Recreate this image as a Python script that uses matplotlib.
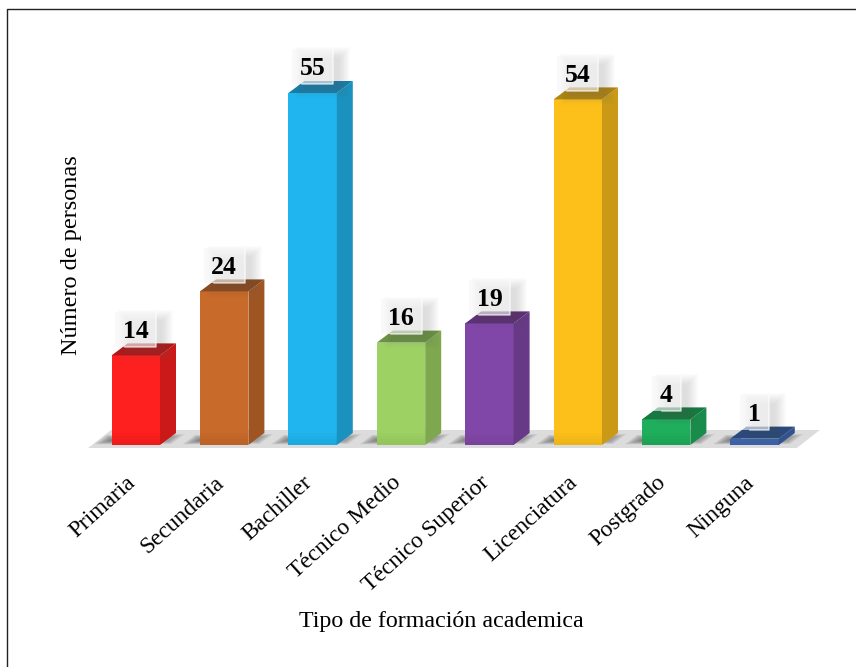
# -*- coding: utf-8 -*-
import numpy as np
import matplotlib
matplotlib.use("Agg")
import matplotlib.pyplot as plt
from matplotlib.patches import Polygon, Rectangle
from matplotlib.lines import Line2D

plt.rcParams["font.family"] = ["Liberation Serif", "DejaVu Serif"]

categories = ["Primaria", "Secundaria", "Bachiller", "Técnico Medio",
              "Técnico Superior", "Licenciatura", "Postgrado", "Ninguna"]
values = [14, 24, 55, 16, 19, 54, 4, 1]
colors = ["#fe1f1f", "#c76a2a", "#20b5ee", "#9dd163",
          "#8147a8", "#fdc01b", "#1fae5c", "#3f68b3"]

W, H = 856, 667
PX_X = 88.4   # pixels per category
PX_Y = 6.4    # pixels per person
BAR_W = 48.4 / PX_X
DX = 16 / PX_X   # depth of the 3d effect
DY = 12 / PX_Y


def shade(color, f):
    rgb = np.array(matplotlib.colors.to_rgb(color))
    return tuple(rgb * f)


def skewed(xa, xb, ya, yb):
    """Paralelogramo sobre el suelo, inclinado como la profundidad de las barras."""
    k = DX / DY
    return Polygon([(xa + ya * k, ya), (xb + ya * k, ya), (xb + yb * k, yb), (xa + yb * k, yb)],
                   closed=True)


fig = plt.figure(figsize=(W / 100, H / 100), dpi=100)
# axes placed so that y=0 sits on the floor line of the bars
left, right, bottom, top = 80, 830, 452, 40
ax = fig.add_axes([left / W, 1 - bottom / H, (right - left) / W, (bottom - top) / H])
ax.set_xlim((left - 135.8) / PX_X, (right - 135.8) / PX_X)
ax.set_ylim((445 - bottom) / PX_Y, (445 - top) / PX_Y)
ax.patch.set_alpha(0)
for s in ax.spines.values():
    s.set_visible(False)

# floor
x0 = -BAR_W / 2 - 23.5 / PX_X
x1 = len(values) - 1 + BAR_W / 2 + 41 / PX_X
y_lo = -3 / PX_Y
y_hi = 15 / PX_Y
skew = 23 / PX_X
floor = Polygon([(x0, y_lo), (x1 - skew, y_lo), (x1, y_hi), (x0 + skew, y_hi)],
                closed=True, fc="#dcdcdc", ec="none", zorder=1)
ax.add_patch(floor)

# soft shadows on the floor, beside each bar
for i in range(len(values)):
    xl = i - BAR_W / 2
    xr = i + BAR_W / 2
    for k in range(7):
        p = skewed(xl - (18 - 2.2 * k) / PX_X, xl + 2 / PX_X,
                   (0.4 + 0.35 * k) / PX_Y * 2, DY - (1.0 + 0.5 * k) / PX_Y * 2)
        p.set(fc="#444444", alpha=0.14, ec="none", zorder=1.5)
        ax.add_patch(p)
    for k in range(5):
        p = skewed(xr - 2 / PX_X, xr + (10 - 1.6 * k) / PX_X,
                   (1 + 0.6 * k) / PX_Y, DY - (1 + 0.6 * k) / PX_Y)
        p.set(fc="#444444", alpha=0.09, ec="none", zorder=1.5)
        ax.add_patch(p)

# front faces
bars = ax.bar(range(len(values)), values, width=BAR_W, color=colors, zorder=3)

# side and top faces
for i, (v, c) in enumerate(zip(values, colors)):
    xl, xr = i - BAR_W / 2, i + BAR_W / 2
    ax.add_patch(Polygon([(xr, 0), (xr + DX, DY), (xr + DX, v + DY), (xr, v)],
                         closed=True, fc=shade(c, 0.80), ec="none", zorder=3))
    ax.add_patch(Polygon([(xl, v), (xl + DX, v + DY), (xr + DX, v + DY), (xr, v)],
                         closed=True, fc=shade(c, 0.70), ec="none", zorder=3))
    # base of the front face fades slightly deeper
    for k in range(4):
        ax.add_patch(Rectangle((xl, 0), BAR_W, min(v, (12 - 3 * k) / PX_Y), fc=shade(c, 0.6),
                               alpha=0.035, ec="none", zorder=3.1))

# value labels on a translucent box with soft shadow
for i, v in enumerate(values):
    half = (20.5 if v >= 10 else 14.5) / PX_X
    bx0, bx1 = i - half, i + half
    by0 = v + 8.5 / PX_Y
    by1 = by0 + 35 / PX_Y
    for k in range(12):
        ax.add_patch(Rectangle((bx0 + (3 + k) / PX_X, by0 - (14 - k) / PX_Y),
                               (bx1 - bx0) + (14 - 2 * k) / PX_X,
                               (by1 - by0) + (16 - 2 * k) / PX_Y,
                               fc="#666666", alpha=0.016, ec="none", zorder=3.5))
    ax.add_patch(Rectangle((bx0, by0), bx1 - bx0, by1 - by0,
                           fc="#f6f6f6", alpha=0.62, ec="none", zorder=4))
    ax.plot([bx0 + 10 / PX_X, bx1, bx1], [by0, by0, by1], color="white",
            lw=1.1, alpha=0.65, zorder=4.1)
    ax.text((bx0 + bx1) / 2, by0 + 15.5 / PX_Y, str(v), ha="center", va="center",
            fontsize=18.5, fontweight="bold", color="black", zorder=5)

ax.set_yticks([])
ax.set_xticks(range(len(values)))
ax.set_xticklabels([])
ax.tick_params(length=0)

# rotated category labels, anchored at their upper right end
for i, name in enumerate(categories):
    ax.annotate(name, xy=(i, 0), xycoords="data",
                xytext=(-10, -27), textcoords="offset pixels",
                rotation=42, rotation_mode="anchor", ha="right", va="top",
                fontsize=16.8, color="black")

fig.text(441 / W, 1 - 621 / H, "Tipo de formación academica", ha="center", va="center",
         fontsize=17.3, color="black")
fig.text(71 / W, 1 - 255 / H, "Número de personas", ha="center", va="center",
         rotation=90, fontsize=17.5, color="black")

# outer frame: only the top and left edges are in the picture
fig.add_artist(Line2D([7.5 / W, 7.5 / W, 1], [0, 1 - 8.5 / H, 1 - 8.5 / H],
                      color="#222222", lw=1.0, transform=fig.transFigure))

fig.savefig("out.png", dpi=100)
plt.close(fig)
